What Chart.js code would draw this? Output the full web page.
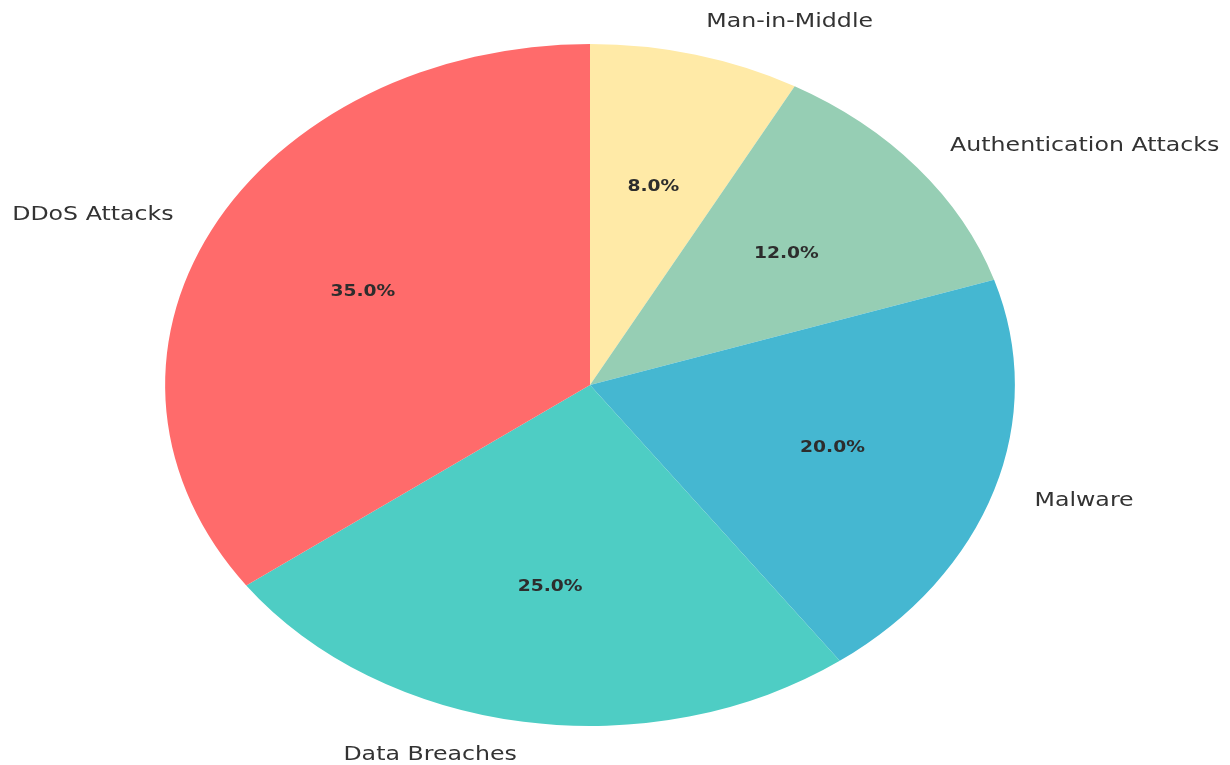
<!DOCTYPE html>
<html>
<head>
<meta charset="utf-8">
<script src="https://cdn.jsdelivr.net/npm/chart.js@4.4.1/dist/chart.umd.min.js"></script>
<style>
  html, body { margin: 0; padding: 0; background: #fff; }
  #wrap { width: 1230px; height: 765px; position: relative; }
</style>
</head>
<body>
<div id="wrap"><canvas id="attackPie"></canvas></div>
<script>
// categories and shares (percent), counter-clockwise from the top like the original
const categories = ["DDoS Attacks", "Data Breaches", "Malware", "Authentication Attacks", "Man-in-Middle"];
const shares = [35, 25, 20, 12, 8];
const sliceColors = ["#ff6b6b", "#4ecdc4", "#45b7d1", "#96ceb4", "#ffeaa7"];

// pie is stretched sideways in the picture, so squash x by this factor
const stretchX = 1.246;

// chart.js goes clockwise, so feed it reversed
const labelsCw = categories.slice().reverse();
const sharesCw = shares.slice().reverse();
const colorsCw = sliceColors.slice().reverse();

const stretchPlugin = {
  id: "stretch",
  beforeDatasetsDraw(chart) {
    const arc = chart.getDatasetMeta(0).data[0];
    const ctx = chart.ctx;
    ctx.save();
    ctx.translate(arc.x, 0);
    ctx.scale(stretchX, 1);
    ctx.translate(-arc.x, 0);
  },
  afterDatasetsDraw(chart) {
    const ctx = chart.ctx;
    ctx.restore();
    const meta = chart.getDatasetMeta(0);
    const total = sharesCw.reduce((a, b) => a + b, 0);
    meta.data.forEach((arc, i) => {
      const mid = (arc.startAngle + arc.endAngle) / 2;
      const r = arc.outerRadius;
      const c = Math.cos(mid), s = Math.sin(mid);

      // outer category label
      let x = arc.x + r * 1.1 * c * stretchX;
      let y = arc.y + r * 1.1 * s;
      ctx.save();
      ctx.translate(x, y);
      ctx.scale(stretchX, 1);
      ctx.font = "19px 'DejaVu Sans'";
      ctx.fillStyle = "#333333";
      ctx.textBaseline = "middle";
      ctx.textAlign = c < 0 ? "right" : "left";
      ctx.fillText(labelsCw[i], 0, 0);
      ctx.restore();

      // percentage inside
      x = arc.x + r * 0.6 * c * stretchX;
      y = arc.y + r * 0.6 * s;
      ctx.save();
      ctx.translate(x, y);
      ctx.scale(stretchX, 1);
      ctx.font = "bold 15px 'DejaVu Sans'";
      ctx.fillStyle = "#2d2d2d";
      ctx.textBaseline = "middle";
      ctx.textAlign = "center";
      ctx.fillText((sharesCw[i] / total * 100).toFixed(1) + "%", 0, 0);
      ctx.restore();
    });
  }
};

const ctx = document.getElementById("attackPie").getContext("2d");
const attackPie = new Chart(ctx, {
  type: "pie",
  data: {
    labels: labelsCw,
    datasets: [
      {
        data: sharesCw,
        backgroundColor: colorsCw,
        borderWidth: 0,
      },
    ],
  },
  options: {
    responsive: true,
    maintainAspectRatio: false,
    animation: false,
    rotation: 0,
    layout: {
      padding: { left: 249, right: 299, top: 44, bottom: 39 },
    },
    plugins: {
      legend: { display: false },
      tooltip: { enabled: false },
    },
  },
  plugins: [stretchPlugin],
});
</script>
</body>
</html>
